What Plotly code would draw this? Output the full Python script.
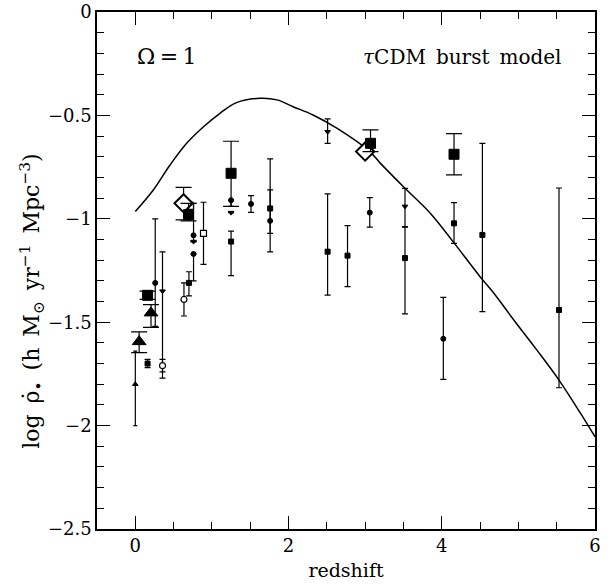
import plotly.graph_objects as go

# tau-CDM burst model curve
model_z = [0.0, 0.235, 0.453, 0.67, 0.89, 1.105, 1.32, 1.63, 1.85, 2.06, 2.32, 2.63,
           3.06, 3.2, 3.5, 3.85, 4.155, 4.5, 4.68, 4.94, 5.24, 5.53, 5.81, 6.0]
model_v = [-0.965, -0.861, -0.74, -0.635, -0.555, -0.49, -0.438, -0.417, -0.425, -0.458,
           -0.498, -0.562, -0.675, -0.732, -0.845, -0.973, -1.114, -1.28, -1.36,
           -1.489, -1.634, -1.78, -1.94, -2.054]

# big filled squares
bsq_z = [0.16, 0.695, 1.25, 3.07, 4.16]
bsq_v = [-1.37, -0.98, -0.78, -0.635, -0.688]
bsq_up = [0.02, 0.055, 0.155, 0.065, 0.10]
bsq_dn = [0.02, 0.03, 0.16, 0.04, 0.10]

# big filled triangles
btr_z = [0.05, 0.205]
btr_v = [-1.594, -1.455]
btr_up = [0.047, 0.04]
btr_dn = [0.053, 0.07]

# big open diamonds
bdi_z = [0.63, 3.0]
bdi_v = [-0.925, -0.675]
bdi_up = [0.077, 0.0]
bdi_dn = [0.08, 0.0]

# small filled triangles (up)
str_z = [0.0]
str_v = [-1.80]
str_up = [0.16]
str_dn = [0.20]

# small filled dots
sdot_z = [0.26, 0.76, 0.76, 1.25, 1.51, 1.76, 3.06, 4.02]
sdot_v = [-1.31, -1.08, -1.17, -0.91, -0.928, -1.01, -0.97, -1.58]
sdot_up = [0.31, 0.155, 0.0, 0.0, 0.04, 0.15, 0.072, 0.20]
sdot_dn = [0.21, 0.03, 0.13, 0.03, 0.041, 0.06, 0.07, 0.196]

# small filled squares
ssq_z = [0.16, 0.70, 1.25, 1.76, 2.51, 2.77, 3.52, 4.16, 4.53, 5.53]
ssq_v = [-1.70, -1.31, -1.11, -0.95, -1.159, -1.178, -1.19, -1.022, -1.078, -1.441]
ssq_up = [0.02, 0.054, 0.05, 0.24, 0.28, 0.145, 0.15, 0.10, 0.443, 0.59]
ssq_dn = [0.02, 0.063, 0.165, 0.21, 0.21, 0.15, 0.27, 0.097, 0.371, 0.376]

# small filled triangles (down)
std_z = [0.355, 0.76, 1.25, 2.51, 3.52]
std_v = [-1.35, -1.11, -0.97, -0.579, -0.94]
std_up = [0.19, 0.0, 0.0, 0.062, 0.087]
std_dn = [0.42, 0.0, 0.0, 0.056, 0.098]

# small open circles
soc_z = [0.355, 0.635]
soc_v = [-1.71, -1.39]
soc_up = [0.03, 0.08]
soc_dn = [0.03, 0.08]

# small open squares
sos_z = [0.72, 0.89]
sos_v = [-0.94, -1.07]
sos_up = [0.02, 0.15]
sos_dn = [0.02, 0.15]

x_tickvals = [0, 2, 4, 6]
x_ticktext = ["0", "2", "4", "6"]
y_tickvals = [0, -0.5, -1, -1.5, -2, -2.5]
y_ticktext = ["0", "\u22120.5", "\u22121", "\u22121.5", "\u22122", "\u22122.5"]

fig = go.Figure()

fig.add_trace(go.Scatter(x=model_z, y=model_v, mode="lines",
                         line=dict(color="black", width=1.5), line_shape="spline"))


def add_group(z, v, up, dn, symbol, size, capw, lw=1.0, filled=True):
    fig.add_trace(go.Scatter(
        x=z, y=v, mode="markers",
        marker=dict(symbol=symbol, size=size,
                    color="black" if filled else "white",
                    line=dict(color="black", width=lw)),
        error_y=dict(type="data", symmetric=False, array=up, arrayminus=dn,
                     color="black", thickness=1.2, width=capw),
    ))


add_group(str_z, str_v, str_up, str_dn, "triangle-up", 5, 2)
add_group(sdot_z, sdot_v, sdot_up, sdot_dn, "circle", 5, 3)
add_group(ssq_z, ssq_v, ssq_up, ssq_dn, "square", 5, 3)
add_group(std_z, std_v, std_up, std_dn, "triangle-down", 5, 3)
add_group(soc_z, soc_v, soc_up, soc_dn, "circle", 6, 3, lw=1.2, filled=False)
add_group(sos_z, sos_v, sos_up, sos_dn, "square", 6, 3, lw=1.2, filled=False)
add_group(bdi_z, bdi_v, bdi_up, bdi_dn, "diamond", 14, 8, lw=2, filled=False)
add_group(bsq_z, bsq_v, bsq_up, bsq_dn, "square", 10, 8)
add_group(btr_z, btr_v, btr_up, btr_dn, "triangle-up", 12, 8)

serif = "DejaVu Serif"

fig.update_layout(
    width=610, height=584,
    margin=dict(l=97, r=15, t=12, b=55, autoexpand=False),
    paper_bgcolor="white", plot_bgcolor="white",
    showlegend=False,
    font=dict(family=serif, color="black", size=18),
    xaxis=dict(range=[-0.5, 6], tickmode="array", tickvals=x_tickvals, ticktext=x_ticktext,
               ticks="inside", ticklen=13, tickwidth=1.3, tickcolor="black",
               minor=dict(tickmode="linear", dtick=0.5, tick0=0, ticks="inside", ticklen=7,
                          tickwidth=1.2, tickcolor="black"),
               showline=True, linecolor="black", linewidth=1.5, mirror="ticks",
               showgrid=False, zeroline=False, automargin=False,
               tickfont=dict(family=serif, size=18),
               title=dict(text="redshift", font=dict(family=serif, size=19),
                          standoff=8)),
    yaxis=dict(range=[-2.5, 0], tickmode="array", tickvals=y_tickvals, ticktext=y_ticktext,
               ticks="inside", ticklen=13, tickwidth=1.3, tickcolor="black",
               minor=dict(tickmode="linear", dtick=0.1, tick0=0, ticks="inside", ticklen=7,
                          tickwidth=1.2, tickcolor="black"),
               showline=True, linecolor="black", linewidth=1.5, mirror="ticks",
               showgrid=False, zeroline=False, automargin=False,
               tickfont=dict(family=serif, size=18)),
    annotations=[
        dict(x=-0.132, y=0.44, xref="paper", yref="paper", textangle=-90,
             showarrow=False, xanchor="center", yanchor="middle",
             text="log\u2002\u03c1\u0307<sub>\u2022</sub>\u2002(h\u2002M<sub>\u2299</sub>\u2002yr<sup>\u22121</sup>\u2002Mpc<sup>\u22123</sup>)",
             font=dict(family=serif, size=22)),
        dict(x=0.076, y=0.913, xref="paper", yref="paper", showarrow=False,
             xanchor="left", yanchor="middle", text="\u03a9\u2009=\u20091",
             font=dict(family=serif, size=22)),
        dict(x=0.936, y=0.913, xref="paper", yref="paper", showarrow=False,
             xanchor="right", yanchor="middle",
             text="<i>\u03c4</i>CDM\u2002burst\u2002model",
             font=dict(family=serif, size=20)),
    ],
)

fig.write_html("out.html", config={"displayModeBar": False},
               post_script="document.body.style.margin='0px';"
                           "document.body.style.padding='0px';")
